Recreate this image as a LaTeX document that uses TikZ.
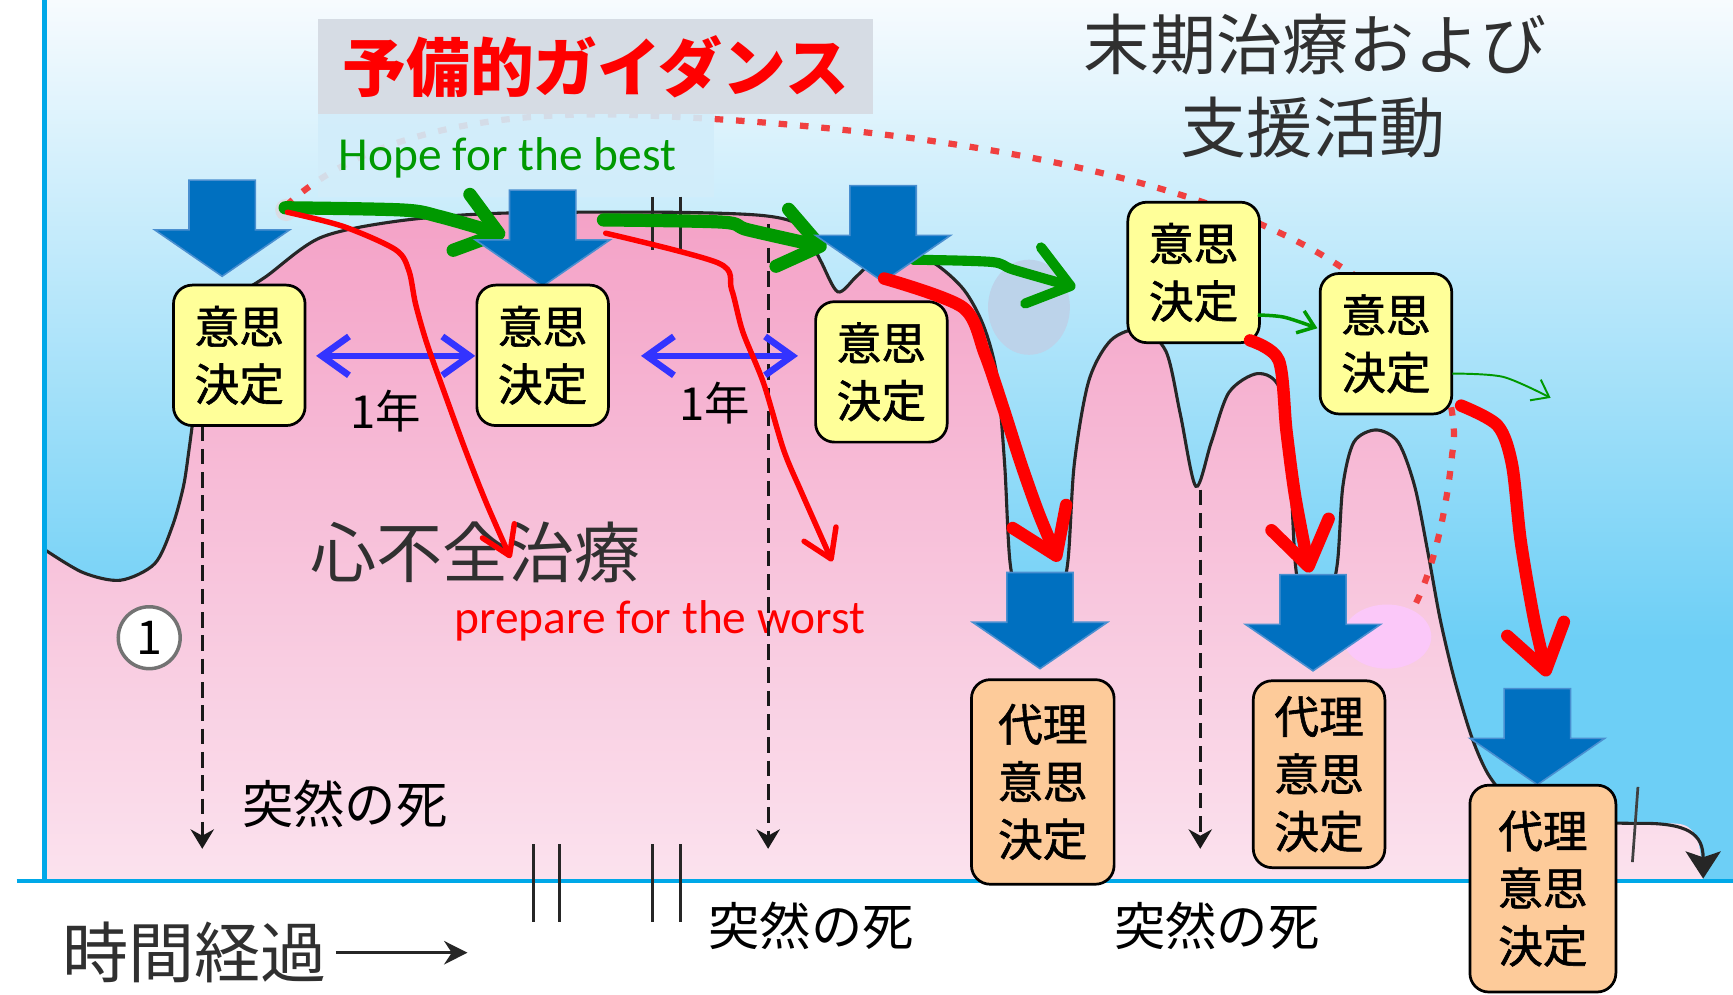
\documentclass[tikz,border=0pt]{standalone}
\usepackage{fontspec}
\setmainfont{Carlito}
\newfontfamily\cjk{Noto Sans CJK JP}
\newfontfamily\cjkmed{Noto Sans CJK JP}[FakeBold=1.3]
\usetikzlibrary{arrows.meta}
\definecolor{bgtop}{HTML}{F7FBFE}
\definecolor{bgbot}{HTML}{6DCFF6}
\definecolor{pinktop}{HTML}{F4A2C7}
\definecolor{pinkbot}{HTML}{FBE2EE}
\definecolor{axisblue}{HTML}{00A8E8}
\definecolor{arrowblue}{HTML}{0070C0}
\definecolor{arrowedge}{HTML}{4A8FD0}
\definecolor{boxyellow}{HTML}{FFFF99}
\definecolor{boxorange}{HTML}{FDCB9A}
\definecolor{dblue}{HTML}{3333FF}
\definecolor{gline}{HTML}{009900}
\definecolor{titlegray}{HTML}{D6DCE4}
\definecolor{hopebg}{HTML}{D2EDFA}
\definecolor{darktext}{HTML}{303030}
\definecolor{lightell}{HTML}{BCD3EA}
\definecolor{pinkell}{HTML}{FBC8F9}
\definecolor{graycirc}{HTML}{D9DCE4}
\definecolor{arcred}{HTML}{F04040}
\tikzset{
  blockarrow/.pic={\fill[arrowblue,draw=arrowedge,line width=0.4pt] (-30,0) -- (30,0) -- (30,45) -- (61,45) -- (0,87) -- (-61,45) -- (-30,45) -- cycle;}
}
\begin{document}
\begin{tikzpicture}[x=0.01cm,y=-0.01cm,
  every node/.style={inner sep=0pt},
  ybox/.style={draw=black,line width=0.7pt,rounded corners=0.17cm,fill=boxyellow,align=center,minimum width=1.19cm,minimum height=1.27cm,font=\cjkmed\fontsize{11.5}{14.8}\selectfont},
  obox/.style={ybox,fill=boxorange},
  dline/.style={black!90,line width=0.75pt,dash pattern=on 4pt off 2pt,-{Stealth[length=5pt,width=6pt]}},
  thinred/.style={red,line width=1.4pt,line cap=round,-{Straight Barb[round,length=7pt,width=9pt]}},
  thickred/.style={red,line width=3.2pt,line cap=round,line join=round,-{Straight Barb[round,length=11pt,width=15pt]}},
  greenthick/.style={gline,line width=3.4pt,line cap=round,line join=round,-{Straight Barb[round,length=10pt,width=15pt]}},
  greenthin/.style={gline,line width=0.9pt,-{Straight Barb[length=4pt,width=6pt]}},
  dblarrow/.style={dblue,line width=1.7pt,{Straight Barb[length=7pt,width=10pt]}-{Straight Barb[length=7pt,width=10pt]}},
  curveline/.style={black!85,line width=0.8pt},
  bigtext/.style={font=\cjk\fontsize{17}{20}\selectfont,text=darktext},
  death/.style={font=\cjk\fontsize{13.2}{16}\selectfont,text=black},
  yeartext/.style={font=\cjk\fontsize{11.7}{14}\selectfont,text=black},
  engtext/.style={font=\fontsize{12.2}{14}\selectfont}
]
% canvas
\useasboundingbox (0,0) rectangle (1568,900);
\fill[white] (0,0) rectangle (1568,900);
\shade[top color=bgtop,bottom color=bgbot] (40,0) rectangle (1568,580);
\fill[bgbot] (40,579) rectangle (1568,797);
% pink area
\shade[top color=pinktop,bottom color=pinkbot] plot[smooth,tension=0.5] coordinates {(40,497) (75,518) (109,525) (140,510) (156,476) (166,440) (171,407) (176,370) (185,310) (205,275) (241,250) (290,215) (360,200) (450,193) (600,192) (690,195) (725,205) (742,235) (758,264) (775,250) (795,232) (815,228) (845,238) (872,262) (890,295) (902,340) (909,420) (914,510) (925,555) (940,565) (955,555) (966,510) (972,420) (985,345) (1005,308) (1032,298) (1055,318) (1068,375) (1082,440) (1096,400) (1112,355) (1138,338) (1158,352) (1167,420) (1172,510) (1180,555) (1190,562) (1200,555) (1210,510) (1215,440) (1225,400) (1245,389) (1265,400) (1280,440) (1292,500) (1303,560) (1316,615) (1332,668) (1348,703) (1370,725) (1420,742) (1481,745) (1522,746) (1536,760) (1541,794)} -- (1541,797) -- (40,797) -- cycle;
\fill[lightell] (931,278) ellipse [x radius=0.37cm,y radius=0.43cm];
\fill[graycirc] (259,190) circle (0.1cm);
% health curve
\draw[curveline] plot[smooth,tension=0.5] coordinates {(40,497) (75,518) (109,525) (140,510) (156,476) (166,440) (171,407) (176,370) (185,310) (205,275) (241,250) (290,215) (360,200) (450,193) (600,192) (690,195) (725,205) (742,235) (758,264) (775,250) (795,232) (815,228) (845,238) (872,262) (890,295) (902,340) (909,420) (914,510) (925,555) (940,565) (955,555) (966,510) (972,420) (985,345) (1005,308) (1032,298) (1055,318) (1068,375) (1082,440) (1096,400) (1112,355) (1138,338) (1158,352) (1167,420) (1172,510) (1180,555) (1190,562) (1200,555) (1210,510) (1215,440) (1225,400) (1245,389) (1265,400) (1280,440) (1292,500) (1303,560) (1316,615) (1332,668) (1348,703) (1370,725) (1420,742) (1481,745)};
\coordinate (tailS) at (1481,745);
\coordinate (tailE) at (1541,795);
\draw[curveline,-{Stealth[length=7pt,width=9pt,inset=1.5pt]}] (tailS) .. controls (1528,744) and (1541,755) .. (tailE);
\draw[black!75,line width=0.7pt] (1482,712) -- (1477,780);
\fill[pinkell] (1255,576) ellipse [x radius=0.40cm,y radius=0.29cm];
% dotted arc
\draw[arcred,line width=1.6pt,dash pattern=on 2.2pt off 3.3pt] (259,186) .. controls (330,120) and (450,100) .. (570,104) .. controls (800,112) and (1080,150) .. (1217,244) .. controls (1300,290) and (1322,370) .. (1314,410) .. controls (1308,470) and (1295,520) .. (1278,552);
% title and hope boxes
\node[fill=hopebg,fill opacity=0.9,minimum width=3.58cm,minimum height=0.75cm] (hopebox) at (467,140.5) {};
\node[fill=titlegray,minimum width=5.02cm,minimum height=0.86cm,text=red,font=\cjk\bfseries\fontsize{16.4}{18}\selectfont] (title) at (539,60) {予備的ガイダンス};
\node[engtext,text=gline,anchor=west] (hope) at (306,143) {Hope for the best};
% texts
\node[bigtext] (endcare1) at (1190,40) {末期治療および};
\node[bigtext] (endcare2) at (1188,115) {支援活動};
\node[bigtext] (hf) at (430,500) {心不全治療};
\node[engtext,text=red] (worst) at (597,562) {prepare for the worst};
\node[death] (sd1) at (312,727) {突然の死};
\node[death] (sd2) at (734,838) {突然の死};
\node[death] (sd3) at (1101,838) {突然の死};
\node[bigtext] (time) at (176,862) {時間経過};
\coordinate (timeS) at (304,862);
\coordinate (timeE) at (423,862);
\draw[black!85,line width=0.9pt,-{Stealth[length=6pt,width=6pt]}] (timeS) -- (timeE);
\node[yeartext] (y1) at (349,372) {1年};
\node[yeartext] (y2) at (647,365) {1年};
\node[circle,draw=black!55,line width=0.9pt,fill=white,minimum size=0.56cm,font=\cjk\fontsize{12}{12}\selectfont] (c1) at (135,577) {1};
% axes
\draw[axisblue,line width=1.2pt] (40,0) -- (40,797);
\draw[axisblue,line width=1.2pt] (15,797) -- (1568,797);
% break marks
\draw[black!85,line width=0.8pt] (483,764) -- (483,834) (506,764) -- (506,834) (590,764) -- (590,834) (616,764) -- (616,834) (590,178) -- (590,226) (616,178) -- (616,226);
% dashed sudden-death lines
\coordinate (d1s) at (183,385); \coordinate (d1e) at (183,768);
\coordinate (d2s) at (695,203); \coordinate (d2e) at (695,768);
\coordinate (d3s) at (1086,443); \coordinate (d3e) at (1086,768);
\draw[dline] (d1s) -- (d1e);
\draw[dline] (d2s) -- (d2e);
\draw[dline] (d3s) -- (d3e);
% green arrows
\draw[greenthick] plot[smooth,tension=0.5] coordinates {(258,188) (364,190) (398,196) (457,213)};
\draw[greenthick] plot[smooth,tension=0.5] coordinates {(546,199) (654,201) (677,208) (748,224)};
\draw[greenthick,line width=2.6pt] plot[smooth,tension=0.5] coordinates {(826,235) (897,237) (917,244) (973,260)};
% blue block arrows
\pic at (201,163) {blockarrow};
\pic at (491,172) {blockarrow};
\pic at (799,168) {blockarrow};
\pic at (941,518) {blockarrow};
\pic at (1188,520) {blockarrow};
\pic at (1391,623) {blockarrow};
% boxes
\node[ybox] (b1) at (216.5,321.5) {意思\\決定};
\node[ybox] (b2) at (491,321.5) {意思\\決定};
\node[ybox] (b3) at (797.5,336.5) {意思\\決定};
\node[ybox] (b4) at (1080,246.5) {意思\\決定};
\node[ybox] (b5) at (1254,311) {意思\\決定};
\node[obox,minimum width=1.29cm,minimum height=1.85cm] (p1) at (943.5,707.5) {代理\\意思\\決定};
\node[obox,minimum width=1.19cm,minimum height=1.69cm] (p2) at (1193.5,700.5) {代理\\意思\\決定};
\node[obox,minimum width=1.32cm,minimum height=1.87cm] (p3) at (1396,804) {代理\\意思\\決定};
% blue double arrows
\coordinate (da1s) at (286,322); \coordinate (da1e) at (430,322);
\coordinate (da2s) at (580,322); \coordinate (da2e) at (722,322);
\draw[dblarrow] (da1s) -- (da1e);
\draw[dblarrow] (da2s) -- (da2e);
% thin green
\draw[greenthin] plot[smooth,tension=0.5] coordinates {(1138,285) (1162,287) (1192,297)};
\draw[greenthin,line width=0.5pt] plot[smooth,tension=0.5] coordinates {(1314,338) (1360,341) (1403,360)};
% red arrows
\draw[thinred] plot[smooth,tension=0.5] coordinates {(260,192) (311,205) (358,226) (370,245) (376,275) (386,310) (402,355) (421,407) (440,455) (462,505)};
\draw[thinred] plot[smooth,tension=0.5] coordinates {(548,211) (650,238) (662,262) (672,300) (691,347) (709,407) (725,445) (753,508)};
\draw[thickred] plot[smooth,tension=0.5] coordinates {(800,252) (871,278) (891,320) (908,370) (924,420) (940,465) (958,508)};
\draw[thickred] plot[smooth,tension=0.5] coordinates {(1131,308) (1157,326) (1164,390) (1172,450) (1185,518)};
\draw[thickred] plot[smooth,tension=0.5] coordinates {(1322,367) (1355,385) (1368,420) (1376,490) (1388,560) (1400,612)};
\end{tikzpicture}
\end{document}
